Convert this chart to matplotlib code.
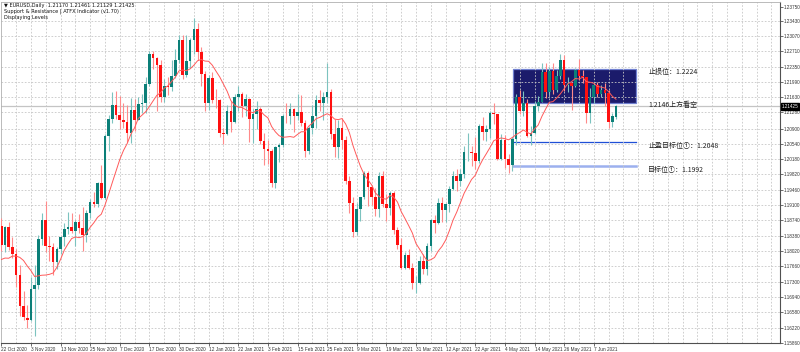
import matplotlib
matplotlib.use('Agg')
import matplotlib.pyplot as plt
import matplotlib.transforms as mtransforms
from matplotlib.patches import Rectangle
import numpy as np
import pandas as pd

plt.rcParams['font.family'] = ['Liberation Sans', 'DejaVu Sans', 'Noto Sans CJK SC']

# EURUSD daily bars, 22 Oct 2020 .. 15 Jun 2021
opens = [1.1862, 1.1816, 1.1859, 1.1811, 1.1795, 1.1746, 1.1674, 1.1645, 1.1640, 1.1713,
         1.1722, 1.1831, 1.1875, 1.1815, 1.1812, 1.1777, 1.1806, 1.1834, 1.1855, 1.1859,
         1.1850, 1.1870, 1.1857, 1.1840, 1.1891, 1.1917, 1.1913, 1.1962, 1.1927, 1.2072,
         1.2113, 1.2145, 1.2121, 1.2110, 1.2105, 1.2079, 1.2134, 1.2111, 1.2147, 1.2149,
         1.2195, 1.2265, 1.2255, 1.2239, 1.2165, 1.2189, 1.2187, 1.2213, 1.2250, 1.2297,
         1.2215, 1.2249, 1.2298, 1.2324, 1.2270, 1.2219, 1.2150, 1.2208, 1.2157, 1.2156,
         1.2080, 1.2078, 1.2132, 1.2106, 1.2164, 1.2171, 1.2142, 1.2159, 1.2112, 1.2125,
         1.2136, 1.2061, 1.2042, 1.2038, 1.1963, 1.2046, 1.2051, 1.2120, 1.2119, 1.2135,
         1.2119, 1.2129, 1.2104, 1.2038, 1.2092, 1.2119, 1.2156, 1.2150, 1.2165, 1.2175,
         1.2076, 1.2047, 1.2091, 1.2062, 1.1966, 1.1915, 1.1848, 1.1900, 1.1929, 1.1985,
         1.1952, 1.1930, 1.1902, 1.1978, 1.1913, 1.1904, 1.1938, 1.1852, 1.1817, 1.1762,
         1.1793, 1.1763, 1.1727, 1.1728, 1.1778, 1.1761, 1.1813, 1.1875, 1.1869, 1.1915,
         1.1899, 1.1912, 1.1947, 1.1979, 1.1966, 1.1983, 1.2035, 1.2035, 1.2032, 1.2013,
         1.2096, 1.2081, 1.2089, 1.2127, 1.2124, 1.2019, 1.2062, 1.2019, 1.2005, 1.2066,
         1.2163, 1.2131, 1.2150, 1.2073, 1.2080, 1.2142, 1.2153, 1.2223, 1.2175, 1.2226,
         1.2180, 1.2214, 1.2250, 1.2193, 1.2196, 1.2190, 1.2228, 1.2213, 1.2212, 1.2126,
         1.2165, 1.2192, 1.2172, 1.2180, 1.2173, 1.2106, 1.2117]
highs = [1.1880, 1.1860, 1.1870, 1.1836, 1.1806, 1.1770, 1.1708, 1.1676, 1.1741, 1.1770,
         1.1840, 1.1891, 1.1920, 1.1838, 1.1821, 1.1811, 1.1838, 1.1868, 1.1893, 1.1891,
         1.1874, 1.1889, 1.1905, 1.1898, 1.1925, 1.1941, 1.1964, 1.2004, 1.2077, 1.2122,
         1.2176, 1.2178, 1.2167, 1.2151, 1.2146, 1.2162, 1.2159, 1.2163, 1.2170, 1.2212,
         1.2273, 1.2272, 1.2257, 1.2250, 1.2207, 1.2210, 1.2251, 1.2276, 1.2310, 1.2310,
         1.2310, 1.2302, 1.2349, 1.2339, 1.2281, 1.2225, 1.2215, 1.2222, 1.2183, 1.2160,
         1.2092, 1.2145, 1.2155, 1.2171, 1.2189, 1.2176, 1.2170, 1.2162, 1.2137, 1.2155,
         1.2140, 1.2080, 1.2063, 1.2043, 1.2050, 1.2057, 1.2125, 1.2149, 1.2150, 1.2138,
         1.2170, 1.2169, 1.2109, 1.2096, 1.2145, 1.2169, 1.2180, 1.2176, 1.2243, 1.2183,
         1.2113, 1.2109, 1.2114, 1.2072, 1.1978, 1.1929, 1.1915, 1.1929, 1.1990, 1.1990,
         1.1958, 1.1951, 1.1988, 1.1989, 1.1935, 1.1943, 1.1944, 1.1858, 1.1832, 1.1800,
         1.1807, 1.1775, 1.1744, 1.1790, 1.1795, 1.1820, 1.1877, 1.1886, 1.1927, 1.1928,
         1.1914, 1.1954, 1.1990, 1.1994, 1.1995, 1.2049, 1.2079, 1.2048, 1.2071, 1.2100,
         1.2116, 1.2099, 1.2130, 1.2150, 1.2125, 1.2077, 1.2075, 1.2030, 1.2071, 1.2171,
         1.2181, 1.2177, 1.2160, 1.2096, 1.2155, 1.2167, 1.2245, 1.2244, 1.2234, 1.2244,
         1.2227, 1.2266, 1.2262, 1.2211, 1.2200, 1.2233, 1.2254, 1.2228, 1.2212, 1.2185,
         1.2199, 1.2199, 1.2193, 1.2198, 1.2180, 1.2126, 1.2146]
lows = [1.1803, 1.1800, 1.1804, 1.1785, 1.1717, 1.1650, 1.1640, 1.1622, 1.1638, 1.1603,
        1.1712, 1.1816, 1.1801, 1.1779, 1.1745, 1.1760, 1.1794, 1.1814, 1.1841, 1.1845,
        1.1814, 1.1845, 1.1803, 1.1823, 1.1880, 1.1906, 1.1905, 1.1924, 1.1925, 1.2038,
        1.2103, 1.2112, 1.2089, 1.2092, 1.2058, 1.2056, 1.2083, 1.2111, 1.2126, 1.2127,
        1.2191, 1.2230, 1.2130, 1.2152, 1.2152, 1.2169, 1.2178, 1.2208, 1.2245, 1.2207,
        1.2211, 1.2232, 1.2266, 1.2250, 1.2191, 1.2132, 1.2133, 1.2150, 1.2138, 1.2070,
        1.2054, 1.2074, 1.2082, 1.2102, 1.2131, 1.2116, 1.2120, 1.2058, 1.2056, 1.2089,
        1.2054, 1.2005, 1.2006, 1.1952, 1.1950, 1.2012, 1.2046, 1.2104, 1.2100, 1.2082,
        1.2109, 1.2095, 1.2022, 1.2030, 1.2078, 1.2091, 1.2132, 1.2110, 1.2150, 1.2066,
        1.2022, 1.2020, 1.2043, 1.1960, 1.1892, 1.1836, 1.1840, 1.1873, 1.1925, 1.1909,
        1.1910, 1.1884, 1.1883, 1.1906, 1.1873, 1.1886, 1.1841, 1.1807, 1.1761, 1.1760,
        1.1760, 1.1712, 1.1704, 1.1724, 1.1747, 1.1745, 1.1802, 1.1845, 1.1866, 1.1871,
        1.1870, 1.1894, 1.1946, 1.1943, 1.1954, 1.1974, 1.2013, 1.2001, 1.1995, 1.2009,
        1.2062, 1.2061, 1.2068, 1.2100, 1.2017, 1.2017, 1.1998, 1.1986, 1.1990, 1.2051,
        1.2123, 1.2119, 1.2071, 1.2052, 1.2076, 1.2130, 1.2153, 1.2161, 1.2169, 1.2172,
        1.2175, 1.2206, 1.2177, 1.2175, 1.2133, 1.2187, 1.2204, 1.2196, 1.2104, 1.2103,
        1.2151, 1.2164, 1.2164, 1.2144, 1.2092, 1.2093, 1.2113]
closes = [1.1816, 1.1859, 1.1811, 1.1795, 1.1746, 1.1674, 1.1646, 1.1640, 1.1713, 1.1722,
          1.1831, 1.1875, 1.1815, 1.1812, 1.1777, 1.1806, 1.1834, 1.1855, 1.1859, 1.1850,
          1.1870, 1.1857, 1.1840, 1.1891, 1.1917, 1.1913, 1.1962, 1.1927, 1.2072, 1.2113,
          1.2145, 1.2121, 1.2110, 1.2105, 1.2079, 1.2134, 1.2111, 1.2147, 1.2149, 1.2195,
          1.2265, 1.2255, 1.2239, 1.2165, 1.2189, 1.2187, 1.2213, 1.2250, 1.2297, 1.2215,
          1.2249, 1.2298, 1.2324, 1.2270, 1.2219, 1.2150, 1.2208, 1.2157, 1.2156, 1.2080,
          1.2078, 1.2132, 1.2106, 1.2164, 1.2171, 1.2142, 1.2159, 1.2112, 1.2125, 1.2136,
          1.2061, 1.2042, 1.2038, 1.1963, 1.2046, 1.2051, 1.2120, 1.2119, 1.2135, 1.2119,
          1.2129, 1.2104, 1.2038, 1.2092, 1.2119, 1.2156, 1.2150, 1.2165, 1.2175, 1.2076,
          1.2047, 1.2091, 1.2062, 1.1966, 1.1915, 1.1848, 1.1900, 1.1929, 1.1985, 1.1952,
          1.1930, 1.1902, 1.1978, 1.1913, 1.1904, 1.1938, 1.1852, 1.1817, 1.1762, 1.1793,
          1.1763, 1.1727, 1.1728, 1.1778, 1.1761, 1.1813, 1.1875, 1.1869, 1.1915, 1.1899,
          1.1912, 1.1947, 1.1979, 1.1966, 1.1983, 1.2035, 1.2035, 1.2032, 1.2013, 1.2096,
          1.2081, 1.2089, 1.2127, 1.2124, 1.2019, 1.2062, 1.2019, 1.2005, 1.2066, 1.2163,
          1.2131, 1.2150, 1.2073, 1.2080, 1.2142, 1.2153, 1.2223, 1.2175, 1.2226, 1.2180,
          1.2214, 1.2250, 1.2193, 1.2196, 1.2190, 1.2228, 1.2213, 1.2212, 1.2126, 1.2165,
          1.2192, 1.2172, 1.2180, 1.2173, 1.2106, 1.2120, 1.21425]
# closes before the first visible bar, needed for the 10 day MA
prev_closes = [1.1825, 1.1815, 1.1745, 1.1746, 1.1705, 1.1718, 1.1768, 1.1822, 1.1862]
ma_period = 10

date_labels = ['22 Oct 2020', '3 Nov 2020', '13 Nov 2020', '25 Nov 2020', '7 Dec 2020',
               '17 Dec 2020', '30 Dec 2020', '12 Jan 2021', '22 Jan 2021', '3 Feb 2021',
               '15 Feb 2021', '25 Feb 2021', '9 Mar 2021', '19 Mar 2021', '31 Mar 2021',
               '12 Apr 2021', '22 Apr 2021', '4 May 2021', '14 May 2021', '26 May 2021',
               '7 Jun 2021']
grid_prices = [1.16220, 1.16580, 1.16940, 1.17300, 1.17660, 1.18020, 1.18380, 1.18740,
               1.19100, 1.19460, 1.19820, 1.20180, 1.20540, 1.20900, 1.21280, 1.21630,
               1.21990, 1.22350, 1.22710, 1.23070, 1.23430]
scale_ends = [1.15860, 1.23750]
bid = 1.21425

# ATFX support / resistance drawing
zone_top = 1.2229
zone_bottom = 1.2151
tp_level = 1.2058
target_level = 1.2002
zone_start = 138.2
zone_end = 171.5
level_texts = ['止损位：1.2224', '1.2146上方看空', '止盈目标位①：1.2048', '目标位①：1.1992']
level_values = [1.2224, 1.2146, 1.2048, 1.1992]

header = ['\u25bc EURUSD,Daily  1.21170 1.21461 1.21129 1.21425',
          'Support & Resistance | ATFX Indicator (v1.70)',
          'Displaying Levels']

o = np.array(opens)
h = np.array(highs)
l = np.array(lows)
c = np.array(closes)
x = np.arange(len(c))
up = c >= o
ma = pd.Series(prev_closes + closes).rolling(ma_period).mean().to_numpy()[len(prev_closes):]

fig = plt.figure(figsize=(8, 3.52), dpi=100)
fig.patch.set_facecolor('white')
ax = fig.add_axes([1 / 800, 9 / 352, 779 / 800, 341 / 352])
ax.set_xlim(-0.08, 210.3)
ax.set_ylim(1.15866, 1.23873)

# grid (drawn over the zone like MT4 does)
for gx in np.arange(4, 211, 4):
    ax.axvline(gx, color='#c6c6c6', lw=0.6, ls=(0, (2, 2)), zorder=1.5)
for gy in grid_prices:
    ax.axhline(gy, color='#c6c6c6', lw=0.6, ls=(0, (2, 2)), zorder=1.5)

# zone and target lines
ax.add_patch(Rectangle((zone_start, zone_bottom), zone_end - zone_start, zone_top - zone_bottom,
                       facecolor='#1b1b6b', edgecolor='#7080d0', lw=0.9, zorder=1))
ax.plot([zone_start, zone_end], [tp_level, tp_level], color='#1f4fd6', lw=0.9, zorder=1.2)
ax.plot([zone_start, zone_end], [target_level, target_level], color='#9cb0ee', lw=1.8, zorder=1.2)
ax.plot([zone_start, zone_start], [zone_bottom, target_level], color='#a6b6d8', lw=0.6, zorder=1.2)

# bid line
ax.axhline(bid, color='#c4c4c4', lw=0.9, zorder=1.6)

# candles
ax.vlines(x[up], l[up], h[up], color='#7cc3bf', lw=0.8, zorder=3)
ax.vlines(x[~up], l[~up], h[~up], color='#ff8a8a', lw=0.8, zorder=3)
body = np.maximum(np.abs(c - o), 0.00008)
ax.bar(x[up], body[up], bottom=o[up], width=0.7, color='#0b7f78', lw=0, zorder=4)
ax.bar(x[~up], body[~up], bottom=c[~up], width=0.7, color='#ff1010', lw=0, zorder=4)

# moving average
ax.plot(x, ma, color='#ff5a5a', lw=0.7, zorder=5)

# level texts
for txt, val in zip(level_texts, level_values):
    ax.text(174.7, val, txt, fontsize=5.0, color='#222222', va='center', ha='left',
            family=['Noto Sans CJK SC', 'DejaVu Sans'], zorder=6)

# axes styling
ax.set_xticks(np.arange(0, 8 * len(date_labels), 8))
ax.set_xticklabels(date_labels)
for lbl in ax.get_xticklabels():
    lbl.set_horizontalalignment('left')
ax.tick_params(axis='x', labelsize=3.4, length=2, width=0.5, pad=1, colors='#333333')

ax.yaxis.tick_right()
yt = [scale_ends[0]] + grid_prices + [scale_ends[1]]
ax.set_yticks(yt)
ax.set_yticklabels(['%.5f' % v for v in yt])
ax.tick_params(axis='y', labelsize=3.3, length=2, width=0.5, pad=1, colors='#333333')

for side in ['left', 'top']:
    ax.spines[side].set_color('#b0b0b0')
    ax.spines[side].set_linewidth(0.6)
for side in ['right', 'bottom']:
    ax.spines[side].set_color('#505050')
    ax.spines[side].set_linewidth(0.8)

# current price tag
trans = mtransforms.blended_transform_factory(ax.transAxes, ax.transData)
ax.text(1.002, bid, '%.5f' % bid, transform=trans, fontsize=3.3, color='white', va='center',
        ha='left', bbox=dict(boxstyle='square,pad=0.2', fc='black', ec='black'), zorder=7,
        clip_on=False)

# header
for k, line in enumerate(header):
    fig.text(4 / 800, 1 - (5 + 6.5 * k) / 352, line, fontsize=3.6, color='#111111',
             va='center', ha='left', family=['DejaVu Sans'])

fig.savefig('out.png', dpi=100)
